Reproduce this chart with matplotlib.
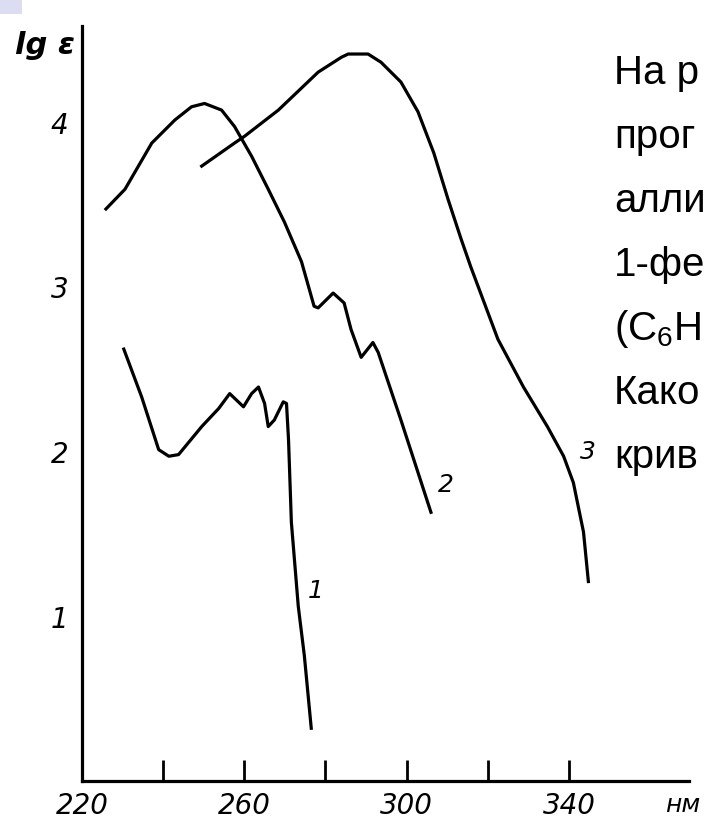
import matplotlib
matplotlib.use('Agg')
import matplotlib.pyplot as plt
from matplotlib.patches import Rectangle

plt.rcParams['mathtext.fontset'] = 'custom'
plt.rcParams['mathtext.rm'] = 'Liberation Sans'

# кривая 1
x1 = [230.3, 234.7, 238.9, 241.4, 243.8, 249.5, 253.7, 256.4, 259.8, 261.8, 263.5,
      265.0, 265.9, 267.4, 269.6, 270.4, 270.9, 271.6, 273.3, 274.8, 276.5]
y1 = [2.62, 2.33, 2.01, 1.97, 1.98, 2.15, 2.26, 2.35, 2.27, 2.35, 2.39,
      2.29, 2.15, 2.19, 2.30, 2.29, 2.07, 1.57, 1.06, 0.76, 0.32]
# кривая 2
x2 = [225.9, 230.6, 237.2, 242.9, 247.0, 250.2, 254.4, 257.6, 261.8, 265.9, 269.9,
      274.1, 277.2, 278.2, 281.9, 284.6, 286.3, 288.8, 291.7, 293.0, 298.6, 306.0]
y2 = [3.47, 3.59, 3.87, 4.01, 4.09, 4.11, 4.07, 3.97, 3.79, 3.59, 3.39,
      3.15, 2.88, 2.87, 2.96, 2.90, 2.74, 2.57, 2.66, 2.60, 2.19, 1.63]
# кривая 3
x3 = [249.5, 257.6, 260.0, 268.4, 278.2, 283.9, 285.6, 290.5, 293.7, 298.6, 302.8,
      306.7, 310.2, 313.4, 315.8, 322.5, 328.8, 334.7, 338.7, 341.1, 343.6, 344.8]
y3 = [3.73, 3.87, 3.91, 4.07, 4.30, 4.39, 4.41, 4.41, 4.36, 4.24, 4.06,
      3.81, 3.53, 3.29, 3.12, 2.68, 2.39, 2.15, 1.97, 1.81, 1.51, 1.21]

curve_labels = ['1', '2', '3']
label_x = [277.7, 309.7, 344.8]
label_y = [1.16, 1.80, 2.00]

xticks = [220, 240, 260, 280, 300, 320, 340]
xticklabels = ['220', '', '260', '', '300', '', '340']
yticks = [1, 2, 3, 4]

# текст справа обрезан краем картинки
text_lines = ['На р', 'прог', 'алли', '1-фе', '(C$_\\mathregular{6}$H',
              'Како', 'крив']

W, H = 712, 829
fig = plt.figure(figsize=(W / 100, H / 100), dpi=100)
ax = fig.add_axes([82 / W, 1 - 782 / H, (689 - 82) / W, (782 - 27) / H])

for xs, ys in [(x1, y1), (x2, y2), (x3, y3)]:
    ax.plot(xs, ys, color='black', lw=2.3, solid_joinstyle='round')

for s, lx, ly in zip(curve_labels, label_x, label_y):
    ax.text(lx, ly, s, fontsize=18, fontstyle='italic', ha='center', va='center')

ax.set_xlim(220, 369.6)
ax.set_ylim(0, 4.58)
for side in ['top', 'right']:
    ax.spines[side].set_visible(False)
for side in ['left', 'bottom']:
    ax.spines[side].set_linewidth(2.3)

ax.set_xticks(xticks)
ax.set_xticklabels(xticklabels)
ax.tick_params(axis='x', direction='in', length=15, width=2, pad=7, labelsize=20)
ax.set_yticks(yticks)
ax.set_yticklabels([str(v) for v in yticks])
ax.tick_params(axis='y', which='major', length=0, pad=10, labelsize=20)
ax.set_yticks([2, 3], minor=True)
ax.tick_params(axis='y', which='minor', direction='in', length=18, width=2)
for lbl in ax.get_xticklabels() + ax.get_yticklabels():
    lbl.set_fontstyle('italic')

fig.text(45 / W, 1 - 45 / H, 'lg ε', fontsize=22, fontstyle='italic',
         fontweight='bold', ha='center', va='center')
fig.text(683 / W, 1 - 805 / H, 'нм', fontsize=18, fontstyle='italic',
         ha='center', va='center')

for i, s in enumerate(text_lines):
    fig.text(614 / W, 1 - (84 + 64 * i) / H, s, fontsize=29,
             family='Liberation Sans', va='baseline', ha='left')

fig.patches.append(Rectangle((0, 1 - 15 / H), 22 / W, 15 / H, transform=fig.transFigure,
                             color='#dcdcf2', lw=0, zorder=0))

fig.savefig('out.png', dpi=100)
